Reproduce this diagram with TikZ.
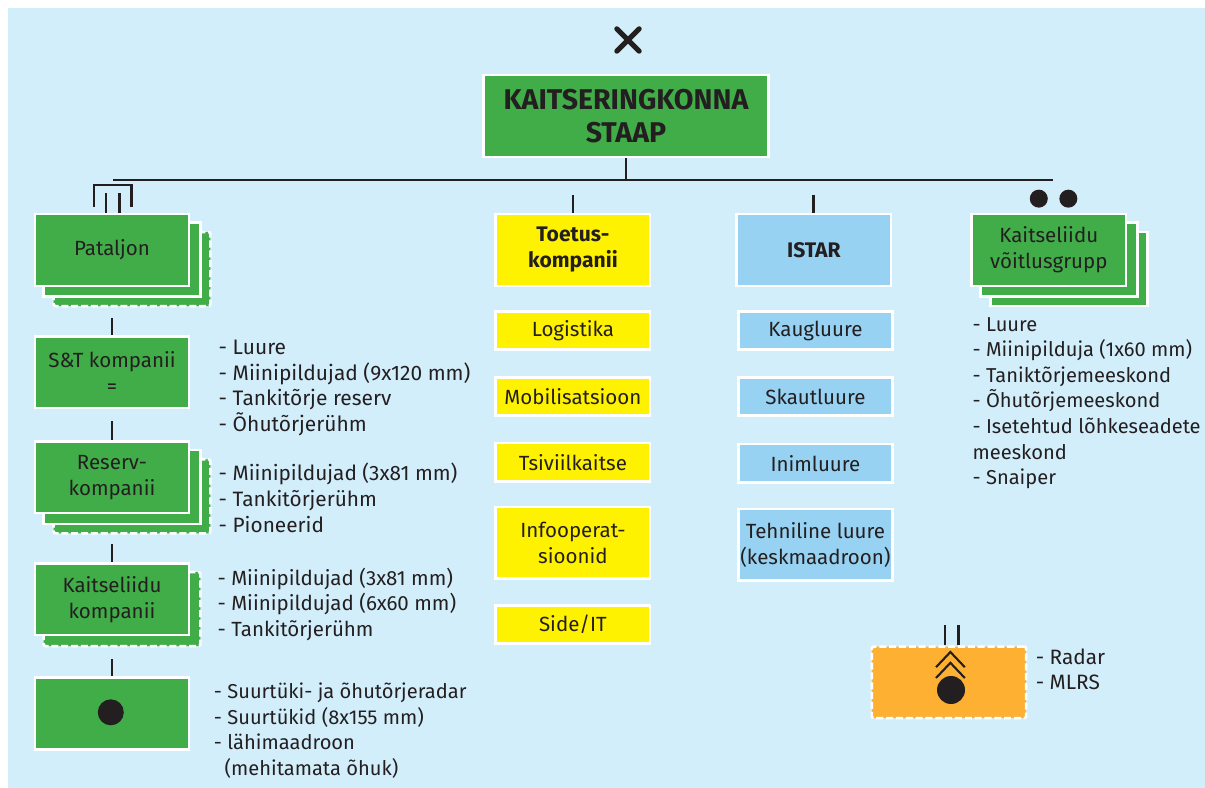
\documentclass[tikz,border=0pt]{standalone}
\usepackage{fontspec}
\setmainfont{Fira Sans}
\usetikzlibrary{positioning,backgrounds}
\definecolor{skyback}{HTML}{D3EEFB}
\definecolor{unitgreen}{HTML}{41AD49}
\definecolor{unityellow}{HTML}{FFF200}
\definecolor{unitblue}{HTML}{97D2F2}
\definecolor{unitorange}{HTML}{FDB032}
\definecolor{ink}{HTML}{231F20}
\begin{document}
\begin{tikzpicture}[
    node distance=0.6cm,
    every node/.style={text=ink},
    unit/.style={rectangle, draw=white, line width=1.8pt, inner sep=0pt, minimum width=3.86cm, minimum height=1.79cm, align=center, font=\fontsize{14.6}{18.5}\selectfont},
    bigunit/.style={unit, fill=unitgreen},
    head/.style={unit, fill=unityellow, font=\fontsize{15}{18.5}\selectfont\bfseries},
    sub/.style={unit, fill=unityellow, minimum height=0.96cm},
    bluesub/.style={unit, fill=unitblue, minimum height=0.96cm},
    list/.style={inner sep=0pt, align=left, font=\fontsize{14.8}{18.2}\selectfont},
    smalllist/.style={list, font=\fontsize{14.3}{18.2}\selectfont},
    back/.style={draw=white, line width=1.8pt, fill=unitgreen},
    dashback/.style={back, dash pattern=on 5pt off 2pt, rounded corners=1.5pt},
    link/.style={draw=ink, line width=2pt},
    dot/.style={circle, fill=ink, inner sep=0pt, minimum size=0.65cm}
]

% Page size
\useasboundingbox (0,0) rectangle (30.125,-19.7);

% Headquarters
\node[bigunit, minimum width=7.13cm, minimum height=2.04cm, font=\fontsize{20.3}{24}\selectfont\bfseries] (staap) at (15.65,-2.9) {KAITSERINGKONNA\\STAAP};

% Left column
\node[bigunit] (pat) at (2.8,-6.25) {Pataljon};
\node[bigunit, below=1.2cm of pat] (st) {S\&T kompanii\\=};
\node[bigunit, below=0.775cm of st] (res) {Reserv-\\kompanii};
\node[bigunit, below=1.2cm of res] (kkomp) {Kaitseliidu\\kompanii};
\node[bigunit, below=1cm of kkomp] (art) {};
\node[dot, xshift=-0.03cm, yshift=0.03cm, at=(art)] (artdot) {};

% Support column
\node[head, right=7.6cm of pat] (toetus) {Toetus-\\kompanii};
\node[sub, below=0.575cm of toetus] (log) {Logistika};
\node[sub, below=0.625cm of log] (mob) {Mobilisatsioon};
\node[sub, below=0.625cm of mob] (tsiv) {Tsiviilkaitse};
\node[sub, below=0.575cm of tsiv, minimum height=1.79cm] (info) {Infooperat-\\sioonid};
\node[sub, below=0.6cm of info] (side) {Side/IT};

% ISTAR column
\node[head, fill=unitblue, right=2.1cm of toetus] (istar) {ISTAR};
\node[bluesub, below=0.575cm of istar, xshift=0.04cm] (kaug) {Kaugluure};
\node[bluesub, below=0.625cm of kaug] (skaut) {Skautluure};
\node[bluesub, below=0.65cm of skaut] (inim) {Inimluure};
\node[bluesub, below=0.6cm of inim, minimum height=1.79cm] (tehn) {Tehniline luure\\(keskmaadroon)};

% Right column
\node[bigunit, right=1.95cm of istar] (grupp) {Kaitseliidu\\võitlusgrupp};
\node[dot, minimum size=0.45cm, above=0.125cm of grupp, xshift=-0.25cm] (gdotl) {};
\node[dot, minimum size=0.45cm, right=0.275cm of gdotl] (gdotr) {};

% Mixed unit
\node[unit, fill=unitorange, draw=white, dash pattern=on 5pt off 2pt, rounded corners=1.5pt] (mix) at (23.725,-17.06) {};
\node[dot, minimum size=0.7cm] (mixdot) at (23.775,-17.25) {};

% Background and stacked copies behind the units
\begin{scope}[on background layer]
\fill[white] (0,0) rectangle (30.125,-19.7);
\fill[skyback] (0.2,-0.2) rectangle (30.125,-19.7);
\foreach \n/\s in {pat/dashback,res/dashback,grupp/back}{
    \draw[\s] ([xshift=0.5cm,yshift=1.375cm]\n.south west) rectangle ([xshift=0.5cm,yshift=-0.475cm]\n.south east);
}
\foreach \n/\s in {pat/back,res/back,grupp/back,kkomp/dashback}{
    \draw[\s] ([xshift=0.25cm,yshift=1.61cm]\n.south west) rectangle ([xshift=0.25cm,yshift=-0.24cm]\n.south east);
}
\end{scope}

% Lists
\node[list, font=\fontsize{14.9}{18.2}\selectfont, below right=0.12cm and 0.7cm of st.north east] (stlist) {- Luure\\- Miinipildujad (9x120 mm)\\- Tankitõrje reserv\\- Õhutõrjerühm};
\node[list, below right=0.57cm and 0.7cm of res.north east] (reslist) {- Miinipildujad (3x81 mm)\\- Tankitõrjerühm\\- Pioneerid};
\node[list, font=\fontsize{14.6}{18.2}\selectfont, below right=0.13cm and 0.67cm of kkomp.north east] (komplist) {- Miinipildujad (3x81 mm)\\- Miinipildujad (6x60 mm)\\- Tankitõrjerühm};
\node[smalllist, below right=0.15cm and 0.58cm of art.north east] (artlist) {- Suurtüki- ja õhutõrjeradar\\- Suurtükid (8x155 mm)\\- lähimaadroon\\\ \ (mehitamata õhuk)};
\node[smalllist, below right=0.75cm and 0.05cm of grupp.south west] (gruplist) {- Luure\\- Miinipilduja (1x60 mm)\\- Taniktõrjemeeskond\\- Õhutõrjemeeskond\\- Isetehtud lõhkeseadete\\meeskond\\- Snaiper};
\node[list, right=0.2cm of mix, yshift=0.33cm] (mixlist) {- Radar\\- MLRS};

% Connectors
\coordinate[below=0.55cm of staap] (busmid);
\coordinate[left=12.825cm of busmid] (busl);
\coordinate[right=10.675cm of busmid] (busr);
\draw[link, line width=1.2pt] (staap) -- (busmid);
\draw[link, line width=1.2pt] (busl) -- (busr);
\foreach \n/\d in {st/0.425,res/0.475,kkomp/0.45,art/0.425,toetus/0.45,istar/0.45}{
    \coordinate[above=\d cm of \n] (\n top);
    \draw[link] (\n top) -- (\n);
}

% Symbols
\draw[link, line width=3.6pt, line cap=round] (15.42,-0.72) -- (15.98,-1.28);
\draw[link, line width=3.6pt, line cap=round] (15.42,-1.28) -- (15.98,-0.72);
\draw[link] ([xshift=-0.45cm,yshift=0.15cm]pat.north) -- ++(0,0.55) -| ([xshift=0.48cm,yshift=0.15cm]pat.north);
\draw[link] ([xshift=-0.15cm]pat.north) -- ++(0,0.5);
\draw[link] ([xshift=0.18cm]pat.north) -- ++(0,0.5);
\draw[link] ([xshift=-0.1cm]mix.north) -- ++(0,0.5);
\draw[link] ([xshift=0.24cm]mix.north) -- ++(0,0.5);
\draw[link, line width=1.5pt] (23.4,-16.68) -- (23.76,-16.3) -- (24.12,-16.68);
\draw[link, line width=1.5pt] (23.4,-16.95) -- (23.76,-16.57) -- (24.12,-16.95);
\end{tikzpicture}
\end{document}
